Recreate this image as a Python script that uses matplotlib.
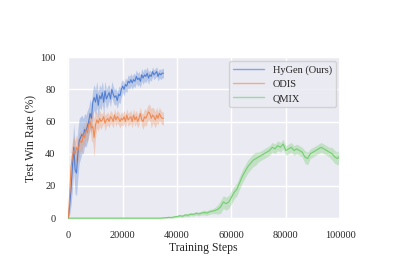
import numpy as np
import matplotlib.pyplot as plt
import seaborn as sns
from matplotlib.lines import Line2D

# ---------------------------------------------
# Datos
hygen_steps = np.arange(0, 35001, 500)
hygen_mean = [0, 8, 18, 32, 44, 30, 28, 40, 48, 50, 52, 51, 55, 54, 57, 60, 65, 62, 72, 75,
              72, 77, 70, 76, 74, 78, 72, 79, 74, 76, 78, 74, 80, 77, 75, 76, 73, 77, 76, 80,
              82, 80, 83, 82, 85, 84, 86, 84, 86, 85, 88, 86, 87, 85, 89, 87, 89, 88, 90, 87,
              89, 88, 91, 89, 90, 91, 88, 90, 89, 90, 90]
hygen_std = [0, 6, 10, 14, 15, 15, 14, 15, 14, 13, 12, 11, 10, 10, 10, 9, 9, 9, 8, 8,
             8, 8, 8, 7, 7, 7, 7, 6, 6, 6, 5, 5, 5, 5, 5, 5, 5, 5, 5, 5,
             4, 4, 4, 4, 4, 4, 4, 4, 4, 4, 4, 4, 4, 4, 4, 4, 4, 4, 4, 4,
             3, 3, 3, 3, 3, 3, 3, 3, 3, 3, 3]

odis_steps = np.arange(0, 35001, 500)
odis_mean = [0, 15, 32, 38, 42, 40, 44, 42, 46, 48, 47, 52, 50, 55, 53, 58, 60, 56, 57, 50,
             58, 61, 59, 62, 60, 61, 63, 59, 61, 62, 60, 63, 62, 60, 64, 61, 63, 62, 60, 62,
             61, 63, 60, 64, 61, 62, 63, 60, 64, 61, 63, 60, 62, 65, 61, 60, 63, 62, 64, 66,
             65, 62, 64, 63, 61, 64, 62, 65, 63, 62, 62]
odis_std = [0, 8, 10, 10, 9, 8, 8, 7, 7, 6, 6, 6, 6, 6, 6, 6, 6, 8, 10, 12,
            8, 5, 5, 5, 5, 4, 4, 5, 4, 4, 4, 4, 4, 4, 4, 4, 4, 4, 4, 4,
            4, 4, 4, 4, 4, 4, 4, 4, 4, 4, 4, 4, 4, 4, 4, 5, 5, 5, 5, 5,
            5, 6, 5, 5, 5, 5, 4, 4, 4, 4, 4]

qmix_steps = np.arange(0, 100001, 1000)
qmix_mean = [0, 0, 0, 0, 0, 0, 0, 0, 0, 0, 0, 0, 0, 0, 0, 0, 0, 0, 0, 0,
             0, 0, 0, 0, 0, 0, 0, 0, 0, 0, 0, 0, 0, 0, 0, 0.2, 0.3, 0.5, 0.4, 0.8,
             1.0, 1.5, 1.2, 2.0, 1.8, 2.5, 2.3, 3.0, 2.6, 3.2, 3.5, 3.2, 4.0, 4.3, 4.8, 5.5, 7, 10, 9, 10,
             13, 16, 18, 22, 26, 29, 32, 34, 36, 37, 38, 39, 40, 41, 42, 44, 43, 45, 44, 46,
             42, 43, 44, 42, 43, 42, 41, 38, 37, 40, 41, 42, 43, 44, 43, 42, 41, 40, 38, 37, 39]
qmix_std = [0.6, 0.6, 0.6, 0.6, 0.6, 0.6, 0.6, 0.6, 0.6, 0.6, 0.6, 0.6, 0.6, 0.6, 0.6, 0.6, 0.6, 0.6, 0.6, 0.6,
            0.6, 0.6, 0.6, 0.6, 0.6, 0.6, 0.6, 0.6, 0.6, 0.6, 0.6, 0.6, 0.6, 0.6, 0.6, 0.6, 0.6, 0.6, 0.6, 0.7,
            0.8, 0.8, 0.8, 1.0, 1.0, 1.0, 1.0, 1.2, 1.2, 1.2, 1.5, 1.5, 1.5, 1.5, 2, 3, 4, 4, 4, 4,
            4, 4, 4, 4, 4, 4, 4, 4, 4, 4, 3, 3, 3, 3, 3, 3, 3, 3, 3, 3,
            3, 3, 3, 3, 3, 3, 3, 4, 4, 3, 3, 3, 3, 3, 3, 3, 3, 4, 4, 4, 4]

labels = ["HyGen (Ours)", "ODIS", "QMIX"]

# ---------------------------------------------
# Estilo
sns.set_theme(style="darkgrid")
plt.rcParams['font.family'] = ['Liberation Serif', 'DejaVu Serif']
colors = sns.color_palette("muted")[:3]

fig = plt.figure(figsize=(3.97, 2.80), dpi=100)
ax = fig.add_axes([0.168, 0.214, 0.689, 0.582])

series = [(hygen_steps, hygen_mean, hygen_std),
          (odis_steps, odis_mean, odis_std),
          (qmix_steps, qmix_mean, qmix_std)]
for (x, m, s), c in zip(series, colors):
    m = np.array(m, dtype=float)
    s = np.array(s, dtype=float)
    ax.plot(x, m, color=c, lw=0.8, alpha=0.9)
    ax.fill_between(x, m - s, m + s, color=c, alpha=0.3, lw=0)

ax.set_xlim(-600, 100000)
ax.set_ylim(-1.2, 100)
ax.set_xticks([0, 20000, 40000, 60000, 80000, 100000])
ax.set_yticks([0, 20, 40, 60, 80, 100])
ax.tick_params(labelsize=7.5, pad=2)
ax.set_xlabel("Training Steps", fontsize=8.5, labelpad=1)
ax.set_ylabel("Test Win Rate (%)", fontsize=8.5, labelpad=2)

# Leyenda con líneas claras
handles = [Line2D([], [], color=c, lw=1.0, alpha=0.6) for c in colors]
ax.legend(handles, labels, loc="upper right", fontsize=7.5, handlelength=3.0,
          borderaxespad=0.4, labelspacing=0.45)

fig.savefig("out.png", dpi=100)
